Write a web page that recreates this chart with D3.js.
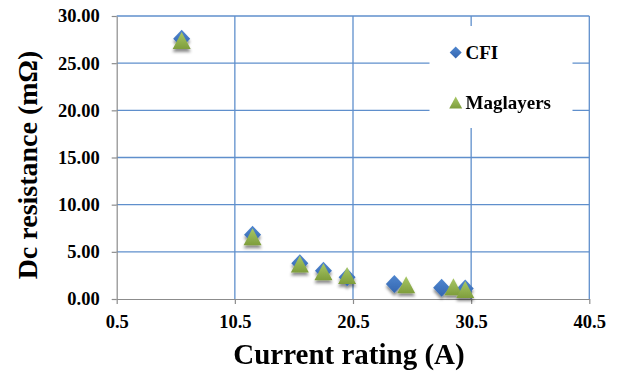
<!DOCTYPE html>
<html>
<head>
<meta charset="utf-8">
<script src="https://cdn.jsdelivr.net/npm/d3@7/dist/d3.min.js"></script>
<style>
  html, body { margin: 0; padding: 0; background: #ffffff; }
  svg { display: block; }
  text { font-family: "Liberation Serif", "Times New Roman", serif; font-weight: bold; fill: #000; }
</style>
</head>
<body>
<svg id="chart" width="620" height="379"></svg>
<script>
// Current rating (A) and DC resistance (mOhm) for two inductor makers
const cfiCurrent = [6, 12, 16, 18, 20, 24, 28, 30];
const cfiResistance = [27.6, 6.8, 3.8, 3.0, 2.3, 1.6, 1.2, 1.1];
const magCurrent = [6, 12, 16, 18, 20, 25, 29, 30];
const magResistance = [27.4, 6.6, 3.7, 2.9, 2.5, 1.5, 1.3, 1.0];

const xTicks = [0.5, 10.5, 20.5, 30.5, 40.5];
const yTicks = [0, 5, 10, 15, 20, 25, 30];
const seriesNames = ["CFI", "Maglayers"];

const svg = d3.select("#chart");
const plotLeft = 116.7, plotRight = 589.3, plotTop = 16, plotBottom = 299;

const x = d3.scaleLinear().domain([0.5, 40.5]).range([plotLeft, plotRight]);
const y = d3.scaleLinear().domain([0, 30]).range([plotBottom, plotTop]);

const defs = svg.append("defs");
const shadow = defs.append("filter").attr("id", "shadow")
  .attr("x", "-50%").attr("y", "-50%").attr("width", "200%").attr("height", "200%");
shadow.append("feDropShadow").attr("dx", 0).attr("dy", 3).attr("stdDeviation", 1.6)
  .attr("flood-color", "#000").attr("flood-opacity", 0.45);

const blueGrad = defs.append("linearGradient").attr("id", "blueGrad")
  .attr("x1", 0).attr("y1", 0).attr("x2", 0).attr("y2", 1);
blueGrad.append("stop").attr("offset", "0%").attr("stop-color", "#4f86cf");
blueGrad.append("stop").attr("offset", "100%").attr("stop-color", "#3466b0");

const greenGrad = defs.append("linearGradient").attr("id", "greenGrad")
  .attr("x1", 0).attr("y1", 0).attr("x2", 0).attr("y2", 1);
greenGrad.append("stop").attr("offset", "0%").attr("stop-color", "#a8c866");
greenGrad.append("stop").attr("offset", "100%").attr("stop-color", "#7e9d3c");

// Gridlines
const grid = svg.append("g");
grid.selectAll("line.h").data(yTicks.filter(d => d > 0)).join("line")
  .attr("x1", plotLeft).attr("x2", plotRight)
  .attr("y1", d => y(d)).attr("y2", d => y(d))
  .attr("stroke", "#5f8fcc").attr("stroke-width", 1.3);
grid.selectAll("line.v").data(xTicks.filter(d => d > 0.5)).join("line")
  .attr("y1", plotTop).attr("y2", plotBottom)
  .attr("x1", d => x(d)).attr("x2", d => x(d))
  .attr("stroke", "#5f8fcc").attr("stroke-width", 1.3);

// Axes
const xAxis = svg.append("g").attr("transform", `translate(0,${plotBottom})`)
  .call(d3.axisBottom(x).tickValues(xTicks).tickFormat(d3.format(".1f"))
    .tickSize(5).tickSizeOuter(0).tickPadding(11));
const yAxis = svg.append("g").attr("transform", `translate(${plotLeft},0)`)
  .call(d3.axisLeft(y).tickValues(yTicks).tickFormat(d3.format(".2f"))
    .tickSize(5).tickSizeOuter(0).tickPadding(12));
[xAxis, yAxis].forEach(a => {
  a.select(".domain").attr("stroke", "#8c8c8c").attr("stroke-width", 1.2);
  a.selectAll(".tick line").attr("stroke", "#8c8c8c").attr("stroke-width", 1.2);
  a.selectAll(".tick text").attr("font-size", 18.5)
    .attr("font-family", "'Liberation Serif', 'Times New Roman', serif")
    .attr("font-weight", "bold").attr("fill", "#000");
});

// Marker shapes
const diamond = "M0,-9 L8.5,0 L0,9 L-8.5,0 Z";
const triangle = "M0,-8.5 L9,8.5 L-9,8.5 Z";

const cfi = cfiCurrent.map((c, i) => ({ c, r: cfiResistance[i] }));
const mag = magCurrent.map((c, i) => ({ c, r: magResistance[i] }));

const marks = svg.append("g").attr("filter", "url(#shadow)");
marks.selectAll("path.cfi").data(cfi).join("path")
  .attr("class", "cfi")
  .attr("d", diamond)
  .attr("transform", d => `translate(${x(d.c)},${y(d.r)})`)
  .attr("fill", "url(#blueGrad)");
marks.selectAll("path.mag").data(mag).join("path")
  .attr("class", "mag")
  .attr("d", triangle)
  .attr("transform", d => `translate(${x(d.c)},${y(d.r)})`)
  .attr("fill", "url(#greenGrad)");

// Legend
const legend = svg.append("g");
legend.append("rect").attr("x", 429.5).attr("y", 26).attr("width", 143).attr("height", 102)
  .attr("fill", "#ffffff");
const legendRows = [
  { name: seriesNames[0], shape: "M0,-6 L6,0 L0,6 L-6,0 Z", fill: "url(#blueGrad)", y: 52.5 },
  { name: seriesNames[1], shape: "M0,-6 L6.5,6 L-6.5,6 Z", fill: "url(#greenGrad)", y: 102.5 }
];
legendRows.forEach(r => {
  legend.append("path").attr("d", r.shape)
    .attr("transform", `translate(455.7,${r.y})`).attr("fill", r.fill);
  legend.append("text").attr("x", 465.5).attr("y", r.y + 6.5)
    .attr("font-size", 19).text(r.name);
});

// Axis titles
svg.append("text").attr("x", 349).attr("y", 364)
  .attr("text-anchor", "middle").attr("font-size", 29).text("Current rating (A)");
svg.append("text").attr("transform", `translate(37,165) rotate(-90)`)
  .attr("text-anchor", "middle").attr("font-size", 28).text("Dc resistance (mΩ)");
</script>
</body>
</html>
